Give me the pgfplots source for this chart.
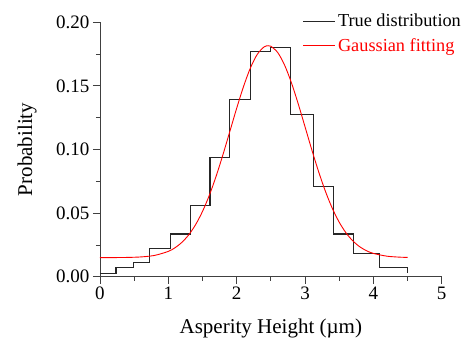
\documentclass[border=0pt]{standalone}
\usepackage{pgfplots}
\pgfplotsset{compat=1.18}
\usepackage{fontspec}
\setmainfont{Liberation Serif}
\begin{document}
\begin{tikzpicture}
\begin{axis}[
  scale only axis,
  width=341.7bp, height=254.4bp,
  at={(0,0)}, anchor=south west,
  xmin=0, xmax=5, ymin=0, ymax=0.2,
  axis x line*=bottom, axis y line*=left,
  axis line style={-, black!75, line width=0.8bp},
  xtick={0,1,2,3,4,5},
  ytick={0,0.05,0.1,0.15,0.2},
  minor x tick num=1, minor y tick num=1,
  tick align=outside,
  major tick length=7bp, minor tick length=4bp,
  tick style={black!75, line width=0.8bp},
  /pgf/number format/assume math mode=true,
  yticklabel style={/pgf/number format/fixed, /pgf/number format/fixed zerofill, /pgf/number format/precision=2, font=\fontsize{19bp}{20bp}\selectfont},
  xticklabel style={font=\fontsize{19bp}{20bp}\selectfont},
  scaled y ticks=false,
  xlabel={Asperity Height (µm)},
  ylabel={Probability},
  xlabel style={font=\fontsize{21bp}{24bp}\selectfont, at={(axis description cs:0.5,-0.205)}, anchor=center},
  ylabel style={font=\fontsize{21bp}{24bp}\selectfont, at={(axis description cs:-0.2136,0.5)}, anchor=center, rotate=0},
  legend style={draw=none, fill=none, at={(1.062,1.04)}, anchor=north east, font=\fontsize{18.3bp}{20bp}\selectfont, row sep=6bp, inner sep=0pt, outer sep=0pt},
  legend cell align=left,
  legend image code/.code={\draw[#1] (0cm,0cm) -- (32bp,0cm);},
  clip=false,
]
\addplot[const plot, black!85, line width=1.1bp] coordinates {
(0,0.0027) (0.234,0.0071) (0.487,0.011) (0.72,0.022) (1.03,0.0336) (1.32,0.056)
(1.61,0.094) (1.90,0.139) (2.20,0.1767) (2.49,0.1803) (2.79,0.1277) (3.12,0.071)
(3.42,0.0336) (3.71,0.0184) (4.09,0.0071) (4.5,0.0027)
};
\addlegendentry{True distribution}
\addplot[red, line width=0.9bp, smooth] coordinates {
(0,0.0150) (0.2,0.01504) (0.4,0.01515) (0.6,0.01555) (0.8,0.01675) (1.0,0.01991)
(1.1,0.02283) (1.2,0.02708) (1.3,0.03303) (1.4,0.04101) (1.5,0.05132) (1.6,0.06406)
(1.7,0.07912) (1.8,0.09610) (1.9,0.11421) (2.0,0.13244) (2.1,0.14948) (2.2,0.16399)
(2.3,0.17470) (2.4,0.18062) (2.46,0.1816) (2.5,0.18116) (2.6,0.17629) (2.7,0.16647)
(2.8,0.15263) (2.9,0.13597) (3.0,0.11789) (3.1,0.09965) (3.2,0.08239) (3.3,0.06690)
(3.4,0.05367) (3.5,0.04287) (3.6,0.03444) (3.7,0.02811) (3.8,0.02356) (3.9,0.02041)
(4.0,0.01831) (4.2,0.01612) (4.4,0.01533) (4.5,0.01517)
};
\addlegendentry{\textcolor{red}{Gaussian fitting}}
\end{axis}
\pgfresetboundingbox
\path (-100bp,-70.3bp) rectangle (367bp,276.7bp);
\end{tikzpicture}
\end{document}
